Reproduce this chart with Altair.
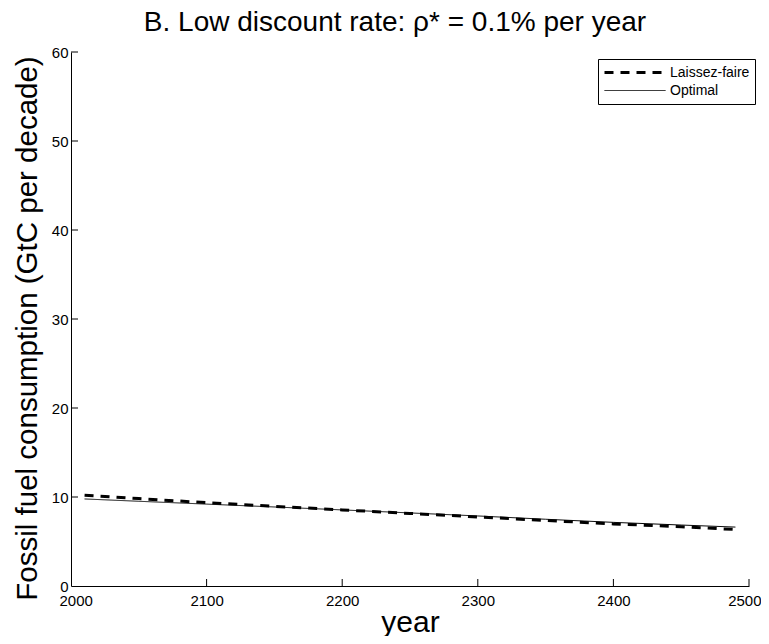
import altair as alt
import pandas as pd

years = [2010, 2050, 2100, 2150, 2200, 2250, 2300, 2350, 2400, 2450, 2490]
laissez_faire = [10.2, 9.82, 9.36, 8.95, 8.55, 8.15, 7.76, 7.36, 6.98, 6.66, 6.35]
optimal = [9.78, 9.52, 9.2, 8.88, 8.55, 8.21, 7.87, 7.5, 7.15, 6.85, 6.62]
series_names = ["Laissez-faire", "Optimal"]
x_ticks = [2000, 2100, 2200, 2300, 2400, 2500]
y_ticks = [0, 10, 20, 30, 40, 50, 60]

W, H = 678, 534
FONT = "Liberation Sans"

rows = []
for y, a, b in zip(years, laissez_faire, optimal):
    rows.append({"year": y, "value": a, "series": series_names[0]})
    rows.append({"year": y, "value": b, "series": series_names[1]})
df = pd.DataFrame(rows)

xscale = alt.Scale(domain=[2000, 2500], nice=False)
yscale = alt.Scale(domain=[0, 60], nice=False)

legend = alt.Legend(
    title=None, orient="none", legendX=527, legendY=7,
    strokeColor="black", fillColor="white", padding=5,
    symbolType="stroke", symbolSize=3721, symbolStrokeColor="black",
    clipHeight=17, labelFontSize=14, labelFont=FONT, labelColor="black",
    labelOffset=3, rowPadding=1,
)

lines = alt.Chart(df).mark_line(color="black").encode(
    x=alt.X("year:Q", scale=xscale,
            axis=alt.Axis(title="year", values=x_ticks, format="d", ticks=False,
                          grid=False, domainColor="black", labelFontSize=15,
                          labelColor="black", labelPadding=7, labelFlush=True,
                          labelFlushOffset=12,
                          titleFontSize=30, titleFontWeight="normal", titleColor="black",
                          titleBaseline="alphabetic", titleY=45,
                          labelFont=FONT, titleFont=FONT)),
    y=alt.Y("value:Q", scale=yscale,
            axis=alt.Axis(title="Fossil fuel consumption (GtC per decade)", values=y_ticks,
                          ticks=False, grid=False, domainColor="black", labelFontSize=15,
                          labelColor="black", labelPadding=3, titleFontSize=29.5,
                          titleFontWeight="normal", titleColor="black",
                          titleBaseline="alphabetic", titleX=-35, titleY=276,
                          labelFont=FONT, titleFont=FONT)),
    strokeDash=alt.StrokeDash("series:N",
                              scale=alt.Scale(domain=series_names, range=[[9, 7], [1, 0]]),
                              legend=legend),
    strokeWidth=alt.StrokeWidth("series:N",
                                scale=alt.Scale(domain=series_names, range=[3, 1]),
                                legend=legend),
)

xt = alt.Chart(pd.DataFrame({"t": x_ticks[1:]})).mark_rule(color="black", strokeWidth=1).encode(
    x=alt.X("t:Q", scale=xscale), y=alt.value(H), y2=alt.value(H - 7))
yt = alt.Chart(pd.DataFrame({"t": y_ticks[1:]})).mark_rule(color="black", strokeWidth=1).encode(
    y=alt.Y("t:Q", scale=yscale), x=alt.value(0), x2=alt.value(7))

chart = alt.layer(lines, xt, yt).properties(
    width=W, height=H,
    title=alt.TitleParams("B. Low discount rate: ρ* = 0.1% per year", fontSize=28,
                          font=FONT, fontWeight="normal", color="black", offset=8, dx=-15),
    autosize=alt.AutoSizeParams(type="none"),
    padding={"left": 63, "top": 44, "right": 12, "bottom": 50},
).configure_view(stroke=None)

chart.save("out.html", embed_options={"renderer": "svg", "actions": False})
